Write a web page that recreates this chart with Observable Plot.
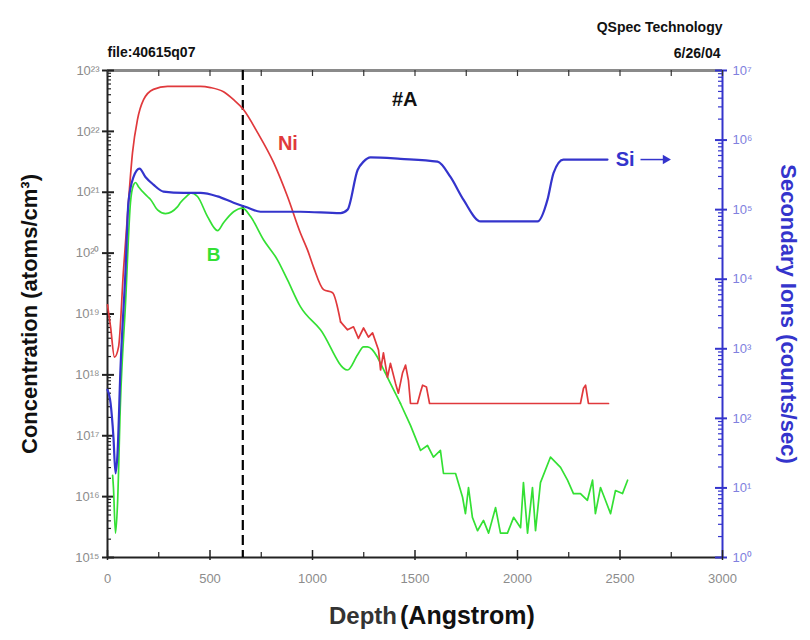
<!DOCTYPE html>
<html><head><meta charset="utf-8">
<script src="https://cdn.jsdelivr.net/npm/d3@7"></script>
<script src="https://cdn.jsdelivr.net/npm/@observablehq/plot@0.6"></script>
<style>
body{margin:0;background:#fff;}
#chart{width:810px;height:640px;}
</style></head><body><div id="chart"></div>
<script>
// ---- Ni (atoms/cm3), log10 values ----
const niDepth = [0,15,34,54,78,102,122,146,176,224,293,454,502,566,615,663,732,810,878,941,976,1005,1054,1098,1137,1171,1200,1224,1249,1273,1293,1322,1332,1346,1366,1380,1405,1419,1439,1454,1468,1478,1512,1527,1537,1556,1571,2307,2322,2332,2346,2444];
const niLog10 = [19.15,18.79,18.29,18.46,19.72,20.83,21.65,22.19,22.52,22.69,22.74,22.74,22.72,22.65,22.52,22.36,21.98,21.49,20.93,20.33,20.05,19.77,19.40,19.35,18.87,18.74,18.79,18.60,18.77,18.62,18.69,18.41,18.08,18.36,17.96,18.19,17.86,17.70,18.03,18.16,17.91,17.53,17.53,17.72,17.83,17.80,17.53,17.53,17.78,17.83,17.53,17.53];

// ---- B (atoms/cm3), log10 values ----
const bDepth = [25,29,39,49,63,88,112,127,137,151,195,210,244,283,341,356,395,405,439,488,537,566,615,659,698,761,829,878,941,1039,1171,1220,1249,1268,1317,1332,1380,1429,1478,1527,1561,1590,1624,1639,1698,1732,1746,1761,1780,1805,1834,1859,1893,1917,1951,1981,2015,2029,2049,2073,2088,2112,2161,2210,2244,2273,2307,2341,2366,2380,2405,2429,2454,2478,2512,2537];
const bLog10 = [16.35,16.15,15.40,15.89,17.53,19.18,20.83,21.12,21.16,21.09,20.93,20.88,20.71,20.65,20.76,20.83,20.96,20.99,20.93,20.60,20.37,20.50,20.68,20.74,20.60,20.22,19.89,19.56,19.12,18.74,18.08,18.33,18.46,18.46,18.29,18.19,17.86,17.53,17.17,16.76,16.84,16.65,16.76,16.38,16.38,15.99,15.72,16.15,15.66,15.44,15.61,15.40,15.82,15.40,15.40,15.66,15.49,16.23,15.40,16.15,15.44,16.23,16.65,16.48,16.27,16.05,16.05,15.94,16.27,15.72,16.15,15.94,15.72,16.10,16.05,16.27];

// ---- Si (counts/sec), log10 values ----
const siDepth = [0,15,29,39,49,63,88,102,127,156,185,224,273,371,454,537,615,683,746,941,1137,1171,1220,1249,1283,1429,1610,1673,1737,1820,2098,2146,2176,2224,2439];
const siLog10 = [2.41,2.22,1.73,1.21,1.50,2.69,4.13,5.10,5.47,5.59,5.47,5.36,5.26,5.24,5.24,5.19,5.10,5.03,4.97,4.97,4.95,5.00,5.57,5.69,5.75,5.73,5.69,5.47,5.14,4.83,4.83,5.14,5.53,5.72,5.72];

// ---- axes ----
const xTicks = [0,500,1000,1500,2000,2500,3000];
const xMinor = [250,750,1250,1750,2250,2750];
const leftExp = [15,16,17,18,19,20,21,22,23];
const rightExp = [0,1,2,3,4,5,6,7];
const dashDepth = [660];

const W = 810, H = 640, mt = 70, mb = 83, ml = 107, mr = 88;
const pw = W - ml - mr, ph = H - mt - mb;
const RED = "#e0393c", BLUE = "#3434cc", GREEN = "#34e034";
const NARROW = "Liberation Sans Narrow, Liberation Sans, sans-serif";
const toLeft = lc => 10 ** (15 + lc * 8 / 7);  // right-axis log10 -> left-axis value
const sup = n => String(n).split("").map(c => "⁰¹²³⁴⁵⁶⁷⁸⁹"[+c]).join("");

const ni = niDepth.map((d, i) => ({depth: d, v: 10 ** niLog10[i]}));
const bor = bDepth.map((d, i) => ({depth: d, v: 10 ** bLog10[i]}));
const si = siDepth.map((d, i) => ({depth: d, c: siLog10[i]}));
const NI_SPLIT = 1137, B_SPLIT = 1429;   // smooth profile before, noisy (linear) after

const leftMaj = leftExp.map(e => 10 ** e);
const leftMin = leftExp.slice(0, -1).flatMap(e => [2,3,4,5,6,7,8,9].map(m => m * 10 ** e));
const rightMaj = rightExp.map(toLeft);
const rightMin = rightExp.slice(0, -1).flatMap(e => [2,3,4,5,6,7,8,9].map(m => toLeft(e + Math.log10(m))));

const chart = Plot.plot({
  width: W, height: H,
  marginTop: mt, marginBottom: mb, marginLeft: ml, marginRight: mr,
  style: {fontFamily: "Liberation Sans, Arial, sans-serif", fontSize: "13px", background: "#fff"},
  x: {domain: [0, 3000], axis: null},
  y: {type: "log", domain: [1e15, 1e23], axis: null},
  marks: [
    // frame
    Plot.ruleY([1e23], {stroke: "#8a8a8a", strokeWidth: 3}),
    Plot.ruleY([1e15], {stroke: "#222", strokeWidth: 2}),
    Plot.ruleX([0], {stroke: "#222", strokeWidth: 2}),
    Plot.ruleX([3000], {stroke: BLUE, strokeWidth: 2}),
    // left ticks
    Plot.tickY(leftMaj, {y: d => d, stroke: "#222", strokeWidth: 2, insetLeft: -5, insetRight: pw - 7}),
    Plot.tickY(leftMin, {y: d => d, stroke: "#222", strokeWidth: 1.2, insetRight: pw - 4}),
    // right ticks
    Plot.tickY(rightMaj, {y: d => d, stroke: BLUE, strokeWidth: 2, insetRight: -5, insetLeft: pw - 7}),
    Plot.tickY(rightMin, {y: d => d, stroke: BLUE, strokeWidth: 1.2, insetLeft: pw - 4}),
    // bottom / top ticks
    Plot.tickX(xTicks, {x: d => d, stroke: "#222", strokeWidth: 1.5, insetTop: ph - 7, insetBottom: -3}),
    Plot.tickX(xMinor, {x: d => d, stroke: "#222", strokeWidth: 1.2, insetTop: ph - 5}),
    Plot.tickX(xTicks.concat(xMinor), {x: d => d, stroke: "#333", strokeWidth: 1.2, insetBottom: ph - 6}),
    // tick labels
    Plot.text(leftExp, {frameAnchor: "left", y: e => 10 ** e, text: e => "10" + sup(e), dx: -8,
      textAnchor: "end", fill: "#8c8c8c", fontSize: 13}),
    Plot.text(rightExp, {frameAnchor: "right", y: e => toLeft(e), text: e => "10" + sup(e), dx: 10,
      textAnchor: "start", fill: "#8080de", fontSize: 13}),
    Plot.text(xTicks, {frameAnchor: "bottom", x: d => d, text: d => String(d), dy: 25,
      fill: "#8c8c8c", fontSize: 13}),
    // dashed line
    Plot.ruleX(dashDepth, {stroke: "#000", strokeWidth: 2.2, strokeDasharray: "10,5"}),
    // series
    Plot.line(bor, {filter: d => d.depth <= B_SPLIT, x: "depth", y: "v", stroke: GREEN, strokeWidth: 1.7, curve: "monotone-x"}),
    Plot.line(bor, {filter: d => d.depth >= B_SPLIT, x: "depth", y: "v", stroke: GREEN, strokeWidth: 1.7}),
    Plot.line(ni, {filter: d => d.depth <= NI_SPLIT, x: "depth", y: "v", stroke: RED, strokeWidth: 1.7, curve: "monotone-x"}),
    Plot.line(ni, {filter: d => d.depth >= NI_SPLIT, x: "depth", y: "v", stroke: RED, strokeWidth: 1.7}),
    Plot.line(si, {x: "depth", y: d => toLeft(d.c), stroke: BLUE, strokeWidth: 2.2, curve: "monotone-x"}),
    // annotations
    Plot.text(["Ni"], {x: 880, y: 6.3e21, text: d => d, fill: RED, fontWeight: "bold", fontSize: 20}),
    Plot.text(["B"], {x: 517, y: 9.3e19, text: d => d, fill: GREEN, fontWeight: "bold", fontSize: 19}),
    Plot.text(["#A"], {x: 1450, y: 3.3e22, text: d => d, fill: "#111", fontWeight: "bold", fontSize: 20}),
    Plot.text(["Si"], {x: 2525, y: toLeft(5.72), text: d => d, fill: BLUE, fontWeight: "bold", fontSize: 20}),
    Plot.link([0], {x1: 2600, x2: 2715, y1: toLeft(5.72), y2: toLeft(5.72), stroke: BLUE, strokeWidth: 1.5}),
    Plot.dot([0], {x: 2722, y: toLeft(5.72), symbol: "triangle", rotate: 90, r: 3.5, fill: BLUE, stroke: "none"}),
    // header
    Plot.text(["QSpec Technology"], {frameAnchor: "top-right", dx: 0, dy: -48, text: d => d, textAnchor: "end",
      fontWeight: "bold", fontSize: 14, fontFamily: NARROW, fill: "#111"}),
    Plot.text(["6/26/04"], {frameAnchor: "top-right", dx: -2, dy: -22, text: d => d, textAnchor: "end",
      fontWeight: "bold", fontSize: 14, fontFamily: NARROW, fill: "#111"}),
    Plot.text(["file:40615q07"], {frameAnchor: "top-left", dx: 0, dy: -23, text: d => d, textAnchor: "start",
      fontWeight: "bold", fontSize: 14, fontFamily: NARROW, fill: "#111"}),
    // axis titles
    Plot.text(["Concentration (atoms/cm³)"], {frameAnchor: "left", dx: -78, text: d => d, rotate: -90,
      textAnchor: "middle", fontWeight: "bold", fontSize: 22, fill: "#111"}),
    Plot.text(["Secondary Ions (counts/sec)"], {frameAnchor: "right", dx: 66, text: d => d, rotate: 90,
      textAnchor: "middle", fontWeight: "bold", fontSize: 22, fill: BLUE}),
    Plot.text(["Depth"], {frameAnchor: "bottom", dx: -18, dy: 66, text: d => d, textAnchor: "end",
      fontWeight: "bold", fontSize: 24, fontFamily: NARROW, fill: "#333"}),
    Plot.text(["(Angstrom)"], {frameAnchor: "bottom", dx: -15, dy: 66, text: d => d, textAnchor: "start",
      fontWeight: "bold", fontSize: 25, fill: "#111"})
  ]
});
document.getElementById("chart").appendChild(chart);
</script>
</body></html>
